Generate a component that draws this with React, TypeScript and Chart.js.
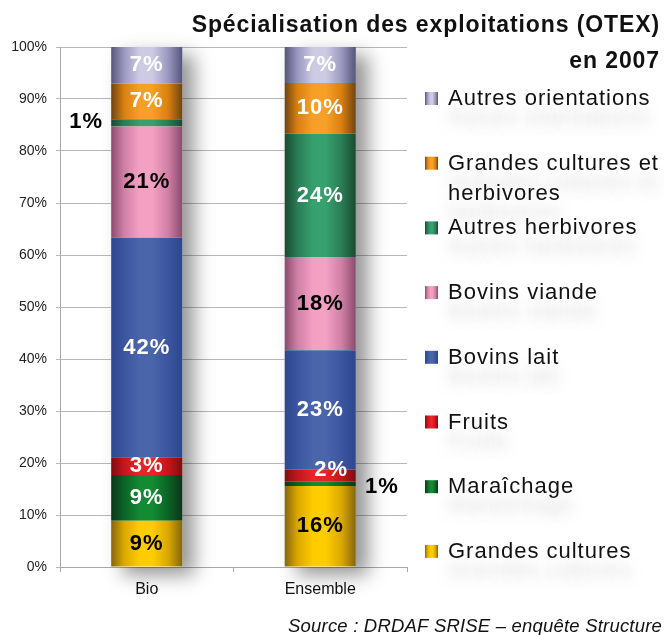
import { useEffect, useRef } from 'react';
import { Chart, registerables } from 'chart.js';

Chart.register(...registerables);

const categories = ['Bio', 'Ensemble'];
const seriesNames = [
  'Grandes cultures',
  'Maraîchage',
  'Fruits',
  'Bovins lait',
  'Bovins viande',
  'Autres herbivores',
  'Grandes cultures et herbivores',
  'Autres orientations',
];
const grandesCultures = [8.9, 15.6];
const maraichage = [8.8, 0.8];
const fruits = [3.4, 2.3];
const bovinsLait = [42.2, 23.0];
const bovinsViande = [21.4, 17.9];
const autresHerbivores = [1.4, 23.7];
const grandesCulturesHerbivores = [6.9, 9.8];
const autresOrientations = [7.0, 6.9];
const seriesValues = [
  grandesCultures,
  maraichage,
  fruits,
  bovinsLait,
  bovinsViande,
  autresHerbivores,
  grandesCulturesHerbivores,
  autresOrientations,
];
const yMin = 0;
const yMax = 100;
const yStep = 10;
const titleLines = ['Spécialisation des exploitations (OTEX)', 'en 2007'];
const sourceText = 'Source : DRDAF SRISE \u2013 enquête Structure';

const FONT = "'Liberation Sans', Arial, sans-serif";
const BAR_PCT = 0.41;

type Shade = { edge: string; mid: string; light: string };
const shades: Shade[] = [
  { edge: '#85660f', mid: '#d9a800', light: '#ffcc00' },
  { edge: '#0c3519', mid: '#0c6325', light: '#138a33' },
  { edge: '#7d0d10', mid: '#c4161d', light: '#ec2229' },
  { edge: '#2d4690', mid: '#3b55a0', light: '#4b65ab' },
  { edge: '#8a4b6c', mid: '#d07fa5', light: '#f3a0c3' },
  { edge: '#1a4a31', mid: '#2a7d55', light: '#36a06e' },
  { edge: '#6f4312', mid: '#d98010', light: '#f7a028' },
  { edge: '#55557a', mid: '#9a98c0', light: '#cdcbe3' },
];
const labelColors = ['#000', '#fff', '#fff', '#fff', '#000', '#fff', '#fff', '#fff'];

function makeGradient(ctx: CanvasRenderingContext2D, x0: number, x1: number, s: Shade) {
  const g = ctx.createLinearGradient(x0, 0, x1, 0);
  g.addColorStop(0, s.edge);
  g.addColorStop(0.18, s.mid);
  g.addColorStop(0.4, s.light);
  g.addColorStop(0.58, s.light);
  g.addColorStop(0.8, s.mid);
  g.addColorStop(1, s.edge);
  return g;
}

function barHalfWidth(chart: any) {
  const xs = chart.scales.x;
  return (xs.width / categories.length) * BAR_PCT / 2;
}

const shadowPlugin = {
  id: 'barShadow',
  beforeDatasetsDraw(chart: any) {
    const { ctx } = chart;
    const xs = chart.scales.x;
    const ys = chart.scales.y;
    const hw = barHalfWidth(chart);
    categories.forEach((_, i) => {
      const total = seriesValues.reduce((a, s) => a + s[i], 0);
      const cx = xs.getPixelForValue(i);
      const top = ys.getPixelForValue(total);
      const bottom = ys.getPixelForValue(0);
      ctx.save();
      ctx.shadowColor = 'rgba(0,0,0,0.42)';
      ctx.shadowBlur = 18;
      ctx.shadowOffsetX = 12;
      ctx.shadowOffsetY = 8;
      ctx.fillStyle = '#ffffff';
      ctx.fillRect(cx - hw, top, hw * 2, bottom - top);
      ctx.restore();
    });
  },
};

const labelPlugin = {
  id: 'segLabels',
  afterDatasetsDraw(chart: any) {
    const { ctx } = chart;
    const hw = barHalfWidth(chart);
    ctx.save();
    ctx.font = `bold 22px ${FONT}`;
    (ctx as any).letterSpacing = '1px';
    ctx.textAlign = 'center';
    ctx.textBaseline = 'middle';
    chart.data.datasets.forEach((ds: any, d: number) => {
      const meta = chart.getDatasetMeta(d);
      meta.data.forEach((el: any, i: number) => {
        const v = ds.data[i] as number;
        const { x, y, base } = el.getProps(['x', 'y', 'base'], true);
        let cx = x;
        let cy = (y + base) / 2;
        let color = labelColors[d];
        if (v < 1.5) {
          color = '#000';
          cx = i === 0 ? x - hw - 25 : x + hw + 26;
          cy = cy + (i === 0 ? -1 : 3);
        } else if (v < 2.5) {
          cx = x + 11;
          cy = y;
        }
        ctx.fillStyle = color;
        ctx.fillText(Math.round(v) + '%', cx, cy);
      });
    });
    ctx.restore();
  },
};

function wrapText(ctx: CanvasRenderingContext2D, text: string, maxW: number) {
  const words = text.split(' ');
  const lines: string[] = [];
  let cur = '';
  words.forEach((w) => {
    const t = cur ? cur + ' ' + w : w;
    if (ctx.measureText(t).width > maxW && cur) {
      lines.push(cur);
      cur = w;
    } else cur = t;
  });
  if (cur) lines.push(cur);
  return lines;
}

const decorPlugin = {
  id: 'decor',
  afterDraw(chart: any) {
    const { ctx } = chart;
    ctx.save();
    // title
    ctx.fillStyle = '#111';
    ctx.font = `bold 23px ${FONT}`;
    (ctx as any).letterSpacing = '0.9px';
    ctx.textAlign = 'right';
    ctx.textBaseline = 'alphabetic';
    ctx.fillText(titleLines[0], 660, 32);
    ctx.fillText(titleLines[1], 660, 68);

    // legend (reverse order)
    ctx.font = `22px ${FONT}`;
    (ctx as any).letterSpacing = '1px';
    ctx.textAlign = 'left';
    ctx.textBaseline = 'middle';
    const n = seriesNames.length;
    for (let k = 0; k < n; k++) {
      const d = n - 1 - k;
      const cy = 99 + k * 64.7;
      const sx = 425;
      ctx.fillStyle = makeGradient(ctx, sx, sx + 13, shades[d]);
      ctx.fillRect(sx, cy - 7, 13, 13);
      const lines = wrapText(ctx, seriesNames[d], 214);
      lines.forEach((ln, j) => {
        ctx.save();
        ctx.shadowColor = 'rgba(0,0,0,0.13)';
        ctx.shadowBlur = 12;
        ctx.shadowOffsetY = 19;
        ctx.fillStyle = '#111';
        ctx.fillText(ln, 448, cy + j * 30);
        ctx.restore();
      });
    }

    // source
    ctx.font = `italic 18.5px ${FONT}`;
    (ctx as any).letterSpacing = '0.2px';
    ctx.textAlign = 'left';
    ctx.textBaseline = 'alphabetic';
    ctx.fillStyle = '#111';
    ctx.fillText(sourceText, 288, 632);
    ctx.restore();
  },
};

export default function App() {
  const ref = useRef<HTMLCanvasElement | null>(null);
  useEffect(() => {
    if (!ref.current) return;
    const chart = new Chart(ref.current, {
      type: 'bar',
      data: {
        labels: categories,
        datasets: seriesNames.map((name, d) => ({
          label: name,
          data: seriesValues[d],
          backgroundColor: (c: any) => {
            const ch = c.chart;
            const xs = ch.scales?.x;
            if (!xs || !ch.chartArea) return shades[d].mid;
            const cx = xs.getPixelForValue(c.dataIndex);
            const hw = barHalfWidth(ch);
            return makeGradient(ch.ctx, cx - hw, cx + hw, shades[d]);
          },
          borderWidth: 0,
          categoryPercentage: 1,
          barPercentage: BAR_PCT,
        })),
      },
      options: {
        responsive: false,
        animation: false,
        layout: { padding: { left: 0, top: 47, right: 257, bottom: 0 } },
        plugins: {
          legend: { display: false },
          title: { display: false },
          tooltip: { enabled: false },
        },
        scales: {
          x: {
            stacked: true,
            grid: { drawOnChartArea: false, drawTicks: true, tickLength: 5, color: '#a8a8a8' },
            border: { color: '#a8a8a8' },
            ticks: { color: '#111', padding: 8, font: { family: FONT, size: 16 } },
            afterFit: (s: any) => { s.height = 68; },
          },
          y: {
            stacked: true,
            min: yMin,
            max: yMax,
            ticks: {
              stepSize: yStep,
              color: '#222',
              padding: 9,
              font: { family: FONT, size: 14 },
              callback: (v: any) => v + '%',
            },
            grid: { color: '#b8b8b8', tickLength: 4 },
            border: { color: '#a8a8a8' },
            afterFit: (s: any) => { s.width = 60; },
          },
        },
      },
      plugins: [shadowPlugin, labelPlugin, decorPlugin],
    });
    return () => chart.destroy();
  }, []);
  return (
    <div style={{ position: 'absolute', left: 0, top: 0, width: 664, height: 635 }}>
      <canvas ref={ref} width={664} height={635} />
    </div>
  );
}
